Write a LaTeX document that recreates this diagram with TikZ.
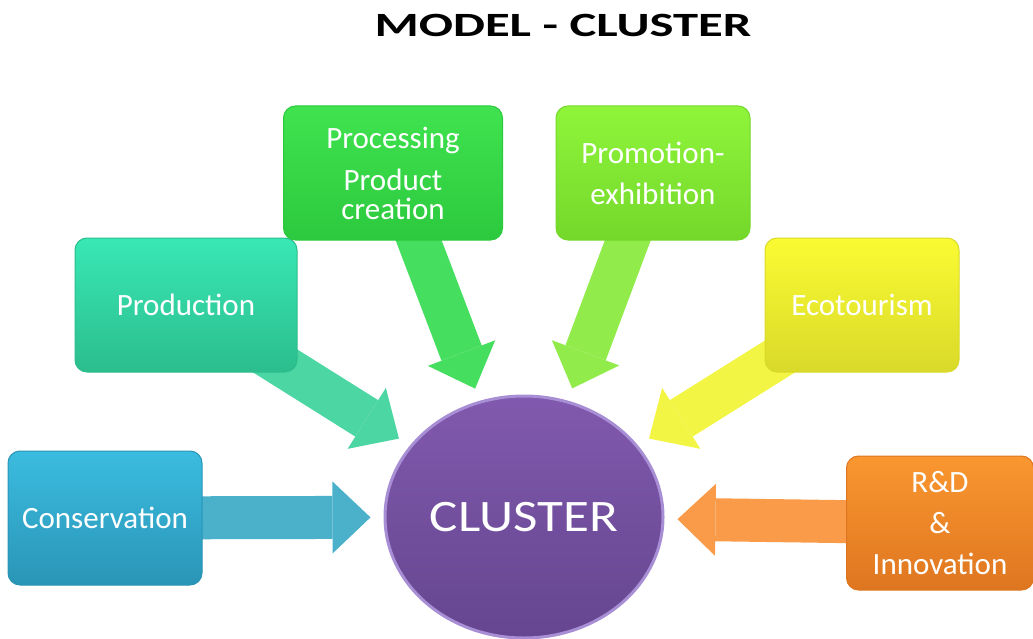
\documentclass[tikz,border=0pt]{standalone}
\usepackage{fontspec}
\setmainfont{Carlito}
\usetikzlibrary{arrows.meta,shapes.geometric,backgrounds}

\definecolor{consTop}{HTML}{3BBCE0}
\definecolor{consBot}{HTML}{2A95B6}
\definecolor{consArr}{HTML}{4BB1CA}
\definecolor{prodTop}{HTML}{38E8B4}
\definecolor{prodBot}{HTML}{2CBD8D}
\definecolor{prodArr}{HTML}{4CD6A4}
\definecolor{procTop}{HTML}{40E34F}
\definecolor{procBot}{HTML}{2CC93E}
\definecolor{procArr}{HTML}{45DE5E}
\definecolor{promTop}{HTML}{8FF53A}
\definecolor{promBot}{HTML}{74D82B}
\definecolor{promArr}{HTML}{91EC4B}
\definecolor{ecoTop}{HTML}{FBFB33}
\definecolor{ecoBot}{HTML}{D9D92A}
\definecolor{ecoArr}{HTML}{F2F544}
\definecolor{rdTop}{HTML}{FA9730}
\definecolor{rdBot}{HTML}{DE7620}
\definecolor{rdArr}{HTML}{F99B49}
\definecolor{clusTop}{HTML}{8159AE}
\definecolor{clusBot}{HTML}{65468F}
\definecolor{clusRim}{HTML}{A88ED4}

\tikzset{
  topic/.style={rounded corners=12pt, text=white, align=center, inner sep=0pt,
    minimum height=134pt, font=\fontsize{31}{41}\selectfont, line width=1pt},
  flow/.style={line width=43pt, -{Triangle[length=38pt,width=72pt,line width=0pt]},
    shorten >=13pt},
}

\begin{document}
\begin{tikzpicture}[x=1pt,y=-1pt]
        \useasboundingbox (0,0) rectangle (1033,639);
        \node[font=\bfseries\fontsize{34}{40}\selectfont] (title) at (563,25) {\scalebox{1.49}[1]{MODEL - CLUSTER}};
        \node[ellipse, minimum width=278pt, minimum height=242pt, inner sep=0pt,
          top color=clusTop, bottom color=clusBot, draw=clusRim, line width=3pt,
          text=white, font=\fontsize{45}{50}\selectfont] (cluster) at (524,517) {\scalebox{1.18}[1]{CLUSTER}};
        \node[topic, minimum width=194pt, top color=consTop, bottom color=consBot, draw=consBot] (cons) at (105,518) {Conservation};
        \node[topic, minimum width=222pt, top color=prodTop, bottom color=prodBot, draw=prodBot] (prod) at (186,305) {Production};
        \node[topic, minimum width=219pt, top color=procTop, bottom color=procBot, draw=procBot] (proc) at (393,173) {Processing\\[1pt]Product\\[-12pt]creation};
        \node[topic, minimum width=194pt, top color=promTop, bottom color=promBot, draw=promBot] (prom) at (653,173) {Promotion-\\exhibition};
        \node[topic, minimum width=194pt, top color=ecoTop, bottom color=ecoBot, draw=ecoBot] (eco) at (862,305) {Ecotourism};
        \node[topic, minimum width=187pt, top color=rdTop, bottom color=rdBot, draw=rdBot] (rd) at (940,523) {R\&D\\\&\\Innovation};
        \begin{pgfonlayer}{background}
        \draw[flow, consArr] (cons.center) -- (cluster);
        \draw[flow, prodArr] (prod.center) -- (cluster);
        \draw[flow, procArr] (proc.center) -- (cluster);
        \draw[flow, promArr] (prom.center) -- (cluster);
        \draw[flow, ecoArr] (eco.center) -- (cluster);
        \draw[flow, rdArr] (rd.center) -- (cluster);
        \end{pgfonlayer}
\end{tikzpicture}
\end{document}
